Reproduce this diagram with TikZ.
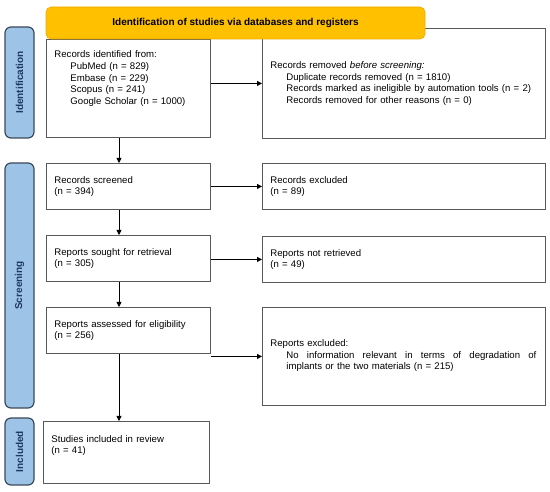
\documentclass[tikz,border=0pt]{standalone}
\usepackage{fontspec}
\setmainfont{Liberation Sans}
\usepackage{xcolor}
\definecolor{bannergold}{HTML}{FFC000}
\definecolor{bannerline}{HTML}{EDA900}
\definecolor{phaseblue}{HTML}{9DC3E6}
\definecolor{phaseline}{HTML}{3B4A5A}
\definecolor{phasetext}{HTML}{1F3864}
\definecolor{boxline}{HTML}{595959}
\usetikzlibrary{arrows.meta,positioning,calc}

\begin{document}
\begin{tikzpicture}[x=1pt, y=-1pt,
    recbox/.style={draw=boxline, line width=0.9pt, fill=white, anchor=north west, align=left, inner xsep=8pt, inner ysep=0pt, font=\fontsize{9.6}{11.7}\selectfont},
    phase/.style={draw=phaseline, fill=phaseblue, line width=1.2pt, rounded corners=6pt, rotate=90, minimum height=29pt, inner sep=0pt, font=\fontsize{10}{12}\selectfont\bfseries, text=phasetext},
    banner/.style={draw=bannerline, fill=bannergold, line width=0.6pt, rounded corners=5pt, minimum width=379pt, minimum height=32pt, font=\fontsize{10}{12}\selectfont\bfseries},
    flow/.style={draw=black, line width=0.8pt, -{Triangle[length=5pt,width=5pt]}}
  ]
    \useasboundingbox (0,0) rectangle (550,492);

    % phase labels on the left
    \foreach \nm/\cy/\len/\txt in {
      idlabel/82.5/111/Identification,
      scrlabel/285.5/245/Screening,
      inclabel/451.5/67/Included
    } {
      \node[phase, minimum width=\len pt] (\nm) at (19.5,\cy) {\txt};
    }

    % main column
    \node[recbox, text width=148pt, minimum height=98pt] (ident) at (46,39) {Records identified from:\\
      \hspace*{16pt}PubMed (n = 829)\\
      \hspace*{16pt}Embase (n = 229)\\
      \hspace*{16pt}Scopus (n = 241)\\
      \hspace*{16pt}Google Scholar (n = 1000)\\[10pt]\mbox{}};
    \node[recbox, text width=148pt, minimum height=46pt] (screened) at (46,163) {Records screened\\(n = 394)};
    \node[recbox, text width=148pt, minimum height=46pt] (sought) at (46,235) {Reports sought for retrieval\\(n = 305)};
    \node[recbox, text width=148pt, minimum height=46pt] (assessed) at (46,307) {Reports assessed for eligibility\\(n = 256)};
    \node[recbox, text width=150pt, minimum height=62pt] (included) at (43,421) {Studies included in review\\(n = 41)\\[4pt]\mbox{}};

    % side column
    \node[recbox, text width=267pt, minimum height=110pt] (removed) at (262,28) {Records removed \textit{before screening:}\\
      \hspace*{16pt}Duplicate records removed (n = 1810)\\
      \hspace*{16pt}Records marked as ineligible by automation tools (n = 2)\\
      \hspace*{16pt}Records removed for other reasons (n = 0)};
    \node[recbox, text width=267pt, minimum height=46pt] (excluded) at (262,163) {Records excluded\\(n = 89)};
    \node[recbox, text width=267pt, minimum height=46pt] (notretr) at (262,236) {Reports not retrieved\\(n = 49)};
    \node[recbox, text width=267pt, minimum height=98pt] (repexcl) at (262,307) {Reports excluded:\\
      \begin{tabular}[t]{@{\hspace{16pt}}l@{}}
        \makebox[250pt][s]{\spaceskip=0pt\xspaceskip=0pt No information relevant in terms of degradation of}\\
        implants or the two materials (n = 215)
      \end{tabular}};

    \node[banner] (head) at (235.5,23) {Identification of studies via databases and registers};

    % connectors
    \coordinate (spine) at (119,0);
    \foreach \a/\b in {ident/screened, screened/sought, sought/assessed, assessed/included}
      \draw[flow] (spine |- \a.south) -- (spine |- \b.north);
    \foreach \a/\b in {ident/removed, screened/excluded, sought/notretr, assessed/repexcl}
      \draw[flow] (\a.east |- \b.west) -- (\b.west);
  \end{tikzpicture}
\end{document}
